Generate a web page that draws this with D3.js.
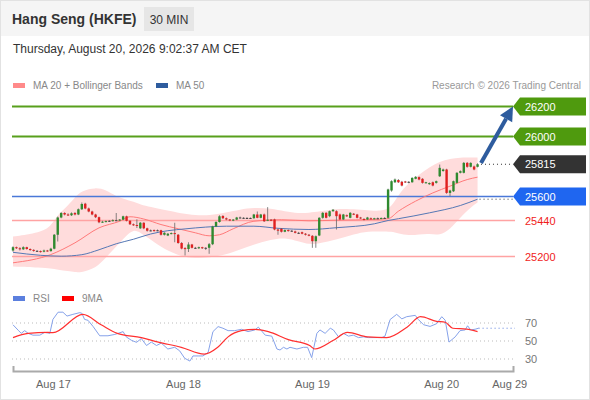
<!DOCTYPE html>
<html>
<head>
<meta charset="utf-8">
<script src="https://cdn.jsdelivr.net/npm/d3@7"></script>
<style>
  html, body { margin: 0; padding: 0; background: #fff; }
  svg { display: block; font-family: "Liberation Sans", Arial, sans-serif; }
</style>
</head>
<body>
<div id="container"></div>
<script>
// 30 min candles, [open, high, low, close], index 0 = first bar on screen
const candles = [
  [25240,25268,25232,25262],[25262,25266,25250,25255],[25255,25262,25240,25248],[25248,25268,25244,25262],
  [25262,25265,25246,25250],[25250,25254,25238,25244],[25244,25248,25232,25238],[25238,25242,25230,25236],
  [25236,25240,25226,25232],[25232,25246,25228,25240],[25240,25244,25232,25236],[25236,25258,25232,25252],
  [25252,25350,25248,25345],[25345,25466,25300,25460],[25460,25496,25455,25490],[25490,25495,25474,25480],
  [25480,25488,25470,25475],[25475,25494,25470,25488],[25490,25496,25474,25480],[25480,25520,25476,25515],
  [25515,25560,25510,25550],[25552,25558,25515,25520],[25520,25526,25495,25500],[25500,25505,25475,25480],
  [25480,25485,25456,25462],[25462,25466,25422,25428],[25428,25438,25424,25432],[25432,25440,25428,25436],
  [25436,25442,25430,25438],[25438,25448,25434,25442],[25442,25490,25436,25440],[25440,25450,25436,25446],
  [25446,25472,25442,25468],[25468,25472,25434,25438],[25438,25442,25410,25415],[25415,25420,25404,25408],
  [25410,25448,25390,25405],[25388,25430,25384,25425],[25425,25428,25382,25388],[25388,25392,25366,25372],
  [25372,25380,25368,25374],[25376,25380,25366,25372],[25372,25380,25368,25375],[25375,25378,25340,25345],
  [25345,25362,25340,25358],[25340,25356,25336,25352],[25352,25360,25348,25356],[25356,25425,25295,25350],
  [25345,25350,25285,25290],[25290,25296,25248,25253],[25256,25262,25207,25250],[25250,25295,25230,25280],
  [25280,25284,25254,25258],[25258,25264,25250,25255],[25255,25266,25250,25262],[25262,25265,25250,25255],
  [25255,25262,25244,25258],[25258,25290,25218,25282],[25282,25405,25276,25400],[25400,25435,25396,25430],
  [25430,25475,25426,25468],[25470,25476,25450,25455],[25455,25460,25442,25447],[25447,25450,25436,25440],
  [25440,25450,25436,25446],[25446,25464,25442,25460],[25460,25466,25454,25458],[25458,25462,25450,25455],
  [25455,25462,25450,25457],[25457,25460,25450,25455],[25455,25484,25452,25480],[25480,25500,25455,25458],
  [25458,25484,25455,25480],[25480,25486,25430,25435],[25440,25529,25436,25445],[25445,25450,25436,25440],
  [25447,25452,25375,25380],[25380,25386,25345,25372],[25385,25390,25360,25365],[25365,25380,25362,25376],
  [25376,25380,25366,25370],[25370,25376,25364,25372],[25367,25372,25354,25358],[25358,25364,25350,25356],
  [25362,25366,25348,25352],[25352,25356,25340,25345],[25345,25350,25335,25340],[25338,25342,25258,25302],
  [25302,25340,25258,25335],[25340,25462,25336,25458],[25458,25496,25452,25491],[25491,25495,25454,25458],
  [25469,25506,25462,25502],[25502,25516,25498,25512],[25502,25508,25380,25469],[25480,25486,25442,25447],
  [25447,25484,25444,25480],[25475,25480,25464,25468],[25458,25496,25455,25491],[25485,25490,25476,25480],
  [25480,25484,25454,25458],[25460,25464,25450,25455],[25450,25456,25440,25445],[25447,25464,25444,25460],
  [25455,25460,25446,25450],[25450,25458,25446,25455],[25455,25460,25448,25452],[25452,25460,25448,25457],
  [25457,25462,25450,25455],[25458,25652,25452,25647],[25640,25708,25632,25702],[25695,25720,25690,25713],
  [25710,25716,25690,25695],[25698,25704,25668,25673],[25700,25704,25690,25695],[25695,25702,25688,25698],
  [25695,25728,25692,25724],[25718,25736,25715,25731],[25729,25734,25708,25713],[25718,25722,25686,25691],
  [25690,25698,25686,25695],[25682,25694,25678,25690],[25695,25700,25668,25673],[25691,25706,25686,25702],
  [25735,25813,25730,25791],[25770,25786,25765,25780],[25780,25785,25618,25624],[25624,25645,25602,25640],
  [25635,25706,25630,25702],[25691,25762,25688,25758],[25758,25774,25754,25769],[25758,25830,25754,25824],
  [25824,25830,25792,25798],[25798,25828,25794,25824],[25800,25806,25775,25780],[25798,25822,25794,25815]
];

// indicator readings as [bar index, value]
const ma20 = [[0,25158],[11,25213],[18,25291],[25,25391],[31,25435],[34,25465],[38,25450],[43,25413],
  [48,25385],[53,25358],[57,25338],[60,25345],[64,25385],[70,25435],[78,25445],[86,25438],[94,25442],
  [105,25447],[109,25452],[112,25502],[117,25569],[122,25624],[127,25669],[132,25713],[135,25729]];
const ma50 = [[0,25228],[8,25208],[14,25202],[20,25212],[25,25245],[30,25285],[35,25315],[40,25350],
  [45,25372],[50,25384],[56,25396],[62,25402],[70,25402],[77,25388],[86,25380],[94,25392],[105,25418],
  [109,25440],[112,25452],[121,25491],[130,25540],[135,25582]];

const bandIdx = [0,8,11,13,16,18,20,24,27,30,33,35,37,40,44,49,53,57,62,66,70,75,79,83,86,89,94,98,102,107,110,112,115,118,121,124,127,130,133,135];
const bandUpper = [25333,25360,25400,25480,25540,25595,25640,25660,25645,25600,25580,25565,25547,25530,25510,25487,25475,25473,25493,25513,
  25527,25520,25500,25487,25492,25500,25518,25516,25512,25500,25527,25613,25690,25747,25795,25833,25853,25860,25860,25860];
const bandLower = [25133,25127,25120,25113,25102,25095,25095,25120,25193,25267,25340,25380,25360,25313,25247,25200,25187,25193,25213,25247,
  25280,25313,25327,25300,25280,25287,25313,25340,25367,25367,25367,25353,25340,25347,25353,25340,25380,25460,25527,25560];

const rsi = [[0,68],[1.5,62],[2.4,58.5],[3.4,61.5],[4.4,58.5],[5.8,56.5],[7.8,56.5],[9.2,59.6],[10.7,58.5],
  [11.6,74],[13.1,82],[14.5,82],[15.7,77.7],[17.4,79.6],[19.4,81.5],[20,80.8],[20.8,74],[21.8,73],[23.3,66],
  [25.2,55.8],[27.6,55.8],[29.6,57.3],[32,60.4],[32.9,54.6],[34.4,50.8],[35.9,48.5],[37.3,52.7],[38.8,45],
  [40.2,48.8],[41.7,45],[43.1,47.7],[45,41.1],[47,43],[48.4,39.2],[49.9,30.8],[51.4,27.7],[52.3,33.4],
  [53.8,33.4],[55.2,33.4],[56.7,37.3],[58.1,60.4],[59.6,66],[61,64.2],[62.5,61.5],[64.4,61.5],[66.4,63],
  [68.3,60.4],[70.3,62.3],[71.3,65.4],[73.3,56.5],[75.2,55.4],[76.7,41.1],[77.6,40],[78.6,43],[79.6,41.1],
  [80.5,43],[82.5,41.1],[84.4,43],[85.6,43],[86.8,31.5],[88.3,58.5],[89.2,62.3],[90.7,58.5],[92.2,64.2],
  [93.1,62.3],[94.6,54.6],[96,58.5],[97.5,55.4],[98.9,56.5],[100.4,53.8],[101.8,54.6],[103.3,53.8],
  [105.2,53.8],[107.2,53.8],[108.1,55.4],[109.6,73.9],[111.5,79.6],[113,74.6],[114.4,77],[116.9,78.5],
  [117.8,73.9],[119.3,68.1],[121.2,66.2],[123.1,69.2],[124.6,77],[125.6,73.1],[126.7,48.8],[128.5,54.6],
  [129.9,61.5],[131.4,62.3],[132.1,66.9],[133,62.3],[134.3,63.1],[135.3,64.2]];
const rsiMa = [[0,53.8],[4.4,58.5],[10.2,59.6],[11.6,59.2],[20.3,79.6],[25.6,68],[30.3,58.5],[37.3,53.8],
  [42.2,48.8],[48.9,43],[55.6,35.4],[59.5,43],[62.5,54.6],[66.4,61.5],[70.3,63],[74.2,60.4],[80,51.5],
  [86.2,45],[87.7,41.1],[93.1,50.8],[97.2,59.6],[103,54.6],[108.6,53.8],[114.5,65.4],[118.4,77],
  [123.1,71.9],[125.6,70.8],[127.8,64.2],[131.8,63.1],[135,60.4]];

const resistances = [26200, 26000];
const pivot = 25600;
const supports = [25440, 25200];
const lastPrice = 25815;
const target = 26200;

const rsiLevels = [70, 50, 30];
const tickIdx = [11.6, 49.4, 86.9, 124.4, 144.2];
const tickLabels = ['Aug 17', 'Aug 18', 'Aug 19', 'Aug 20', 'Aug 29'];

const WIDTH = 590;
const HEIGHT = 400;
const BAR_W = 2.4;

const svg = d3.select('#container')
  .append('svg')
  .attr('width', WIDTH)
  .attr('height', HEIGHT);

const x = d3.scaleLinear().domain([0, 145.3]).range([13, 513]);
const y = d3.scaleLinear().domain([25200, 26200]).range([256.5, 106.5]);
const yRsi = d3.scaleLinear().domain([30, 70]).range([359, 323]);

// card + header
svg.append('rect')
  .attr('x', 0.5).attr('y', 0.5)
  .attr('width', WIDTH - 1).attr('height', HEIGHT - 1)
  .style('fill', '#fff')
  .style('stroke', '#e2e2e2');

svg.append('rect')
  .attr('x', 1).attr('y', 1)
  .attr('width', WIDTH - 2).attr('height', 35)
  .style('fill', '#f5f5f5');

svg.append('text')
  .attr('x', 12).attr('y', 24)
  .style('font-size', '14px')
  .style('font-weight', 'bold')
  .style('fill', '#333')
  .text('Hang Seng (HKFE)');

svg.append('rect')
  .attr('x', 144).attr('y', 7)
  .attr('width', 50).attr('height', 24)
  .style('fill', '#e6e6e6');

svg.append('text')
  .attr('x', 169).attr('y', 24)
  .attr('text-anchor', 'middle')
  .style('font-size', '12px')
  .style('fill', '#333')
  .text('30 MIN');

svg.append('text')
  .attr('x', 13).attr('y', 53)
  .style('font-size', '12px')
  .style('fill', '#333')
  .text('Thursday, August 20, 2026 9:02:37 AM CET');

// legends
function legendItem(xPos, yPos, color, label) {
  svg.append('rect')
    .attr('x', xPos).attr('y', yPos - 5)
    .attr('width', 12).attr('height', 5)
    .style('fill', color);
  svg.append('text')
    .attr('x', xPos + 20).attr('y', yPos + 1)
    .style('font-size', '10px')
    .style('fill', '#888')
    .text(label);
}

legendItem(13, 88, '#ff8a8a', 'MA 20 + Bollinger Bands');
legendItem(156, 88, '#2e5c9e', 'MA 50');

svg.append('text')
  .attr('x', 581).attr('y', 89)
  .attr('text-anchor', 'end')
  .style('font-size', '10px')
  .style('fill', '#999')
  .text('Research \u00a9 2026 Trading Central');

legendItem(13, 301, '#5b7fde', 'RSI');
legendItem(62, 301, '#ff0000', '9MA');

const g = svg.append('g');

// bollinger band
const bandData = bandIdx.map((d, i) => ({ i: d, hi: bandUpper[i], lo: bandLower[i] }));
g.append('path')
  .datum(bandData)
  .attr('d', d3.area()
    .curve(d3.curveBasis)
    .x(d => x(d.i))
    .y0(d => y(d.lo))
    .y1(d => y(d.hi)))
  .style('fill', '#ffdcdc');

// horizontal levels
g.selectAll('.res')
  .data(resistances)
  .enter().append('line')
  .attr('x1', 12).attr('x2', x(145.3))
  .attr('y1', d => y(d)).attr('y2', d => y(d))
  .style('stroke', '#58a01c')
  .style('stroke-width', 2);

g.selectAll('.sup')
  .data(supports)
  .enter().append('line')
  .attr('x1', 12).attr('x2', x(145.3) + 2)
  .attr('y1', d => y(d)).attr('y2', d => y(d))
  .style('stroke', '#ffa3a3')
  .style('stroke-width', 1.5);

g.append('line')
  .attr('x1', 12).attr('x2', x(145.3))
  .attr('y1', y(pivot)).attr('y2', y(pivot))
  .style('stroke', '#4a78d8')
  .style('stroke-width', 1.5);

// moving averages
const lineGen = d3.line().curve(d3.curveMonotoneX).x(d => x(d[0])).y(d => y(d[1]));

g.append('path')
  .datum(ma20)
  .attr('d', lineGen)
  .style('fill', 'none')
  .style('stroke', '#ff7a7a')
  .style('stroke-width', 1);

g.append('path')
  .datum(ma50)
  .attr('d', lineGen)
  .style('fill', 'none')
  .style('stroke', '#5578b5')
  .style('stroke-width', 1);

// dotted extensions to the labels
const lastMa50 = ma50[ma50.length - 1];
g.append('line')
  .attr('x1', x(lastMa50[0]) + 2).attr('x2', x(145.3))
  .attr('y1', y(lastMa50[1])).attr('y2', y(lastMa50[1]))
  .style('stroke', '#333')
  .style('stroke-dasharray', '1,3');

g.append('line')
  .attr('x1', x(candles.length)).attr('x2', x(145.3))
  .attr('y1', y(lastPrice)).attr('y2', y(lastPrice))
  .style('stroke', '#333')
  .style('stroke-dasharray', '1,3');

// candles
const bars = g.selectAll('.candle')
  .data(candles)
  .enter().append('g');

function barColor(d) {
  if (Math.abs(d[3] - d[0]) < 4) return '#444';
  return d[3] >= d[0] ? '#2f8a2f' : '#e01f1f';
}

bars.append('line')
  .attr('x1', (d, i) => x(i)).attr('x2', (d, i) => x(i))
  .attr('y1', d => y(d[1])).attr('y2', d => y(d[2]))
  .style('stroke', '#666')
  .style('stroke-width', 0.8);

bars.append('rect')
  .attr('x', (d, i) => x(i) - BAR_W / 2)
  .attr('y', d => y(Math.max(d[0], d[3])))
  .attr('width', BAR_W)
  .attr('height', d => Math.max(1, Math.abs(y(d[0]) - y(d[3]))))
  .style('fill', barColor);

// target arrow
const start = [x(136), y(lastPrice + 8)];
const tip = [x(145.3), y(target)];
const dx = tip[0] - start[0];
const dy = tip[1] - start[1];
const len = Math.sqrt(dx * dx + dy * dy);
const ux = dx / len;
const uy = dy / len;
const head = 14;
const base = [tip[0] - ux * head, tip[1] - uy * head];

g.append('line')
  .attr('x1', start[0]).attr('y1', start[1])
  .attr('x2', base[0]).attr('y2', base[1])
  .style('stroke', '#2e5c9e')
  .style('stroke-width', 4);

g.append('path')
  .attr('d', `M${tip[0]},${tip[1]} L${base[0] - uy * 7},${base[1] + ux * 7} L${base[0] + uy * 7},${base[1] - ux * 7} Z`)
  .style('fill', '#2e5c9e');

// price tags
function tag(value, color) {
  const yc = y(value);
  const x0 = x(145.3);
  g.append('path')
    .attr('d', `M${x0},${yc} L${x0 + 7},${yc - 9} L586,${yc - 9} L586,${yc + 9} L${x0 + 7},${yc + 9} Z`)
    .style('fill', color);
  g.append('text')
    .attr('x', x0 + 12).attr('y', yc + 4)
    .style('font-size', '11px')
    .style('fill', '#fff')
    .text(value);
}

resistances.forEach(v => tag(v, '#4f9a0e'));
tag(lastPrice, '#333');
tag(pivot, '#1f66f0');

g.selectAll('.supLabel')
  .data(supports)
  .enter().append('text')
  .attr('x', x(145.3) + 12).attr('y', d => y(d) + 4)
  .style('font-size', '11px')
  .style('fill', '#f01c1c')
  .text(d => d);

// RSI panel
g.selectAll('.grid')
  .data(rsiLevels)
  .enter().append('line')
  .attr('x1', 12).attr('x2', x(145.3))
  .attr('y1', d => yRsi(d)).attr('y2', d => yRsi(d))
  .style('stroke', '#bbb')
  .style('stroke-dasharray', '1,3');

g.selectAll('.rsiLabel')
  .data(rsiLevels)
  .enter().append('text')
  .attr('x', x(145.3) + 12).attr('y', d => yRsi(d) + 4)
  .style('font-size', '11px')
  .style('fill', '#777')
  .text(d => d);

const rsiLine = d3.line().x(d => x(d[0])).y(d => yRsi(d[1]));

g.append('path')
  .datum(rsi)
  .attr('d', rsiLine)
  .style('fill', 'none')
  .style('stroke', '#86a2ea')
  .style('stroke-width', 1);

const lastRsi = rsi[rsi.length - 1];
g.append('line')
  .attr('x1', x(lastRsi[0])).attr('x2', x(145.3) + 2)
  .attr('y1', yRsi(lastRsi[1])).attr('y2', yRsi(lastRsi[1]))
  .style('stroke', '#5b7fde')
  .style('stroke-dasharray', '1,3');

g.append('path')
  .datum(rsiMa)
  .attr('d', d3.line().curve(d3.curveMonotoneX).x(d => x(d[0])).y(d => yRsi(d[1])))
  .style('fill', 'none')
  .style('stroke', '#ff3030')
  .style('stroke-width', 1.2);

// time axis
const axis = d3.axisBottom(x)
  .tickValues(tickIdx)
  .tickFormat((d, i) => tickLabels[i])
  .tickSizeInner(0)
  .tickSizeOuter(-5)
  .tickPadding(9);

const axisG = svg.append('g')
  .attr('transform', 'translate(0,371)')
  .call(axis);

axisG.select('.domain')
  .style('stroke', '#aaa')
  .style('stroke-width', 2);

axisG.selectAll('text')
  .style('font-family', '"Liberation Sans", Arial, sans-serif')
  .style('font-size', '11px')
  .style('fill', '#666');
</script>
</body>
</html>
